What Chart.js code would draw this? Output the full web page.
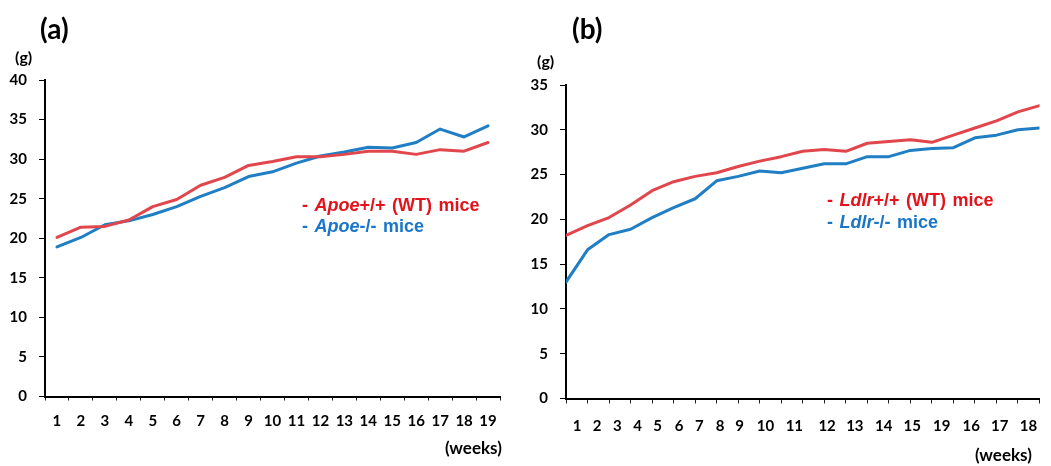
<!DOCTYPE html>
<html>
<head>
<meta charset="utf-8">
<script src="https://cdn.jsdelivr.net/npm/chart.js@4/dist/chart.umd.min.js"></script>
<style>
  html, body { margin: 0; padding: 0; background: #fff; }
  #wrap { position: relative; width: 1051px; height: 466px; overflow: hidden; background: #fff; }
  .pane { position: absolute; top: 0; height: 466px; }
  .t { position: absolute; white-space: nowrap; line-height: 1; color: #000; }
  .lab { font-family: Lato, "Open Sans", sans-serif; font-weight: 700; }
  .leg { font-family: "Liberation Sans", Arial, sans-serif; font-weight: 700; font-size: 18px; word-spacing: 1.5px; }
  .red { color: #e3131b; }
  .blue { color: #1a76c9; }
  i { font-style: italic; }
</style>
</head>
<body>
<div id="wrap">
  <div class="pane" style="left:0;width:525px;"><canvas id="ca" width="525" height="466"></canvas></div>
  <div class="pane" style="left:526px;width:525px;"><canvas id="cb" width="525" height="466"></canvas></div>

  <div class="t lab" style="left:40px;top:14px;font-size:28px;">(a)</div>
  <div class="t lab" style="left:15px;top:49px;font-size:16px;">(g)</div>
  <div class="t lab" style="left:445px;top:439px;font-size:17px;">(weeks)</div>
  <div class="t leg red" style="left:302px;top:196px;">- <i>Apoe</i>+/+ (WT) mice</div>
  <div class="t leg blue" style="left:302px;top:217px;">- <i>Apoe</i>-/- mice</div>

  <div class="t lab" style="left:572px;top:14px;font-size:28px;">(b)</div>
  <div class="t lab" style="left:537px;top:53px;font-size:16px;">(g)</div>
  <div class="t lab" style="left:975px;top:446px;font-size:17px;">(weeks)</div>
  <div class="t leg red" style="left:827px;top:191px;">- <i>Ldlr</i>+/+ (WT) mice</div>
  <div class="t leg blue" style="left:827px;top:213px;">- <i>Ldlr</i>-/- mice</div>
</div>
<script>
// ---------- Panel (a): Apoe ----------
const weeksA = ["1","2","3","4","5","6","7","8","9","10","11","12","13","14","15","16","17","18","19"];
const apoeWT = [20.1, 21.4, 21.5, 22.3, 24.0, 24.9, 26.7, 27.7, 29.2, 29.7, 30.3, 30.3, 30.6, 31.0, 31.0, 30.6, 31.2, 31.0, 32.1];
const apoeKO = [18.9, 20.1, 21.7, 22.2, 23.0, 24.0, 25.3, 26.4, 27.8, 28.4, 29.5, 30.4, 30.9, 31.5, 31.4, 32.1, 33.8, 32.8, 34.2];
const yTicksA = { min: 0, max: 40, step: 5 };

// ---------- Panel (b): Ldlr ----------
const ldlrWT = [18.2, 19.3, 20.2, 21.6, 23.2, 24.2, 24.8, 25.2, 25.9, 26.5, 27.0, 27.6, 27.8, 27.6, 28.5, 28.7, 28.9, 28.6, 29.4, 30.2, 31.0, 32.0, 32.7];
const ldlrKO = [13.0, 16.6, 18.3, 18.9, 20.2, 21.3, 22.3, 24.3, 24.8, 25.4, 25.2, 25.7, 26.2, 26.2, 27.0, 27.0, 27.7, 27.9, 28.0, 29.1, 29.4, 30.0, 30.2];
const weeksBLabels = ["1","2","3","4","5","6","7","8","9","10","11","12","13","14","15","19","16","17","18"];
const weeksBLabelPos = [0.52, 1.45, 2.39, 3.33, 4.26, 5.25, 6.20, 7.16, 8.07, 9.27, 10.61, 12.13, 13.42, 14.76, 16.09, 17.46, 18.83, 20.15, 21.49];
const yTicksB = { min: 0, max: 35, step: 5 };

const RED_LINE = '#e0464b';
const BLUE_LINE = '#1f7ec4';
const tickFont = { family: 'Lato, "Open Sans", sans-serif', size: 15, weight: 'bold' };

Chart.defaults.animation = false;
Chart.defaults.devicePixelRatio = 1;

function lineDs(data, color) {
  return {
    data: data, borderColor: color, backgroundColor: color, borderWidth: 3,
    pointRadius: 0, pointHoverRadius: 0, tension: 0, fill: false,
    borderCapStyle: 'round', borderJoinStyle: 'round'
  };
}

function yAxis(t, width) {
  return {
    type: 'linear', min: t.min, max: t.max,
    afterFit: s => { s.width = width; },
    ticks: { stepSize: t.step, color: '#000', font: tickFont, padding: 12 },
    grid: { drawOnChartArea: false, drawTicks: true, tickLength: 6, color: '#000', lineWidth: 1 },
    border: { display: true, color: '#000', width: 2 }
  };
}

// Chart (a)
new Chart(document.getElementById('ca'), {
  type: 'line',
  data: {
    labels: weeksA,
    datasets: [lineDs(apoeWT, RED_LINE), lineDs(apoeKO, BLUE_LINE)]
  },
  options: {
    responsive: false,
    animation: false,
    events: [],
    layout: { padding: { left: 0, right: 25, top: 80, bottom: 29.5 } },
    plugins: { legend: { display: false }, tooltip: { enabled: false } },
    scales: {
      x: {
        type: 'category', offset: true,
        afterFit: s => { s.height = 40; },
        ticks: { color: '#000', font: tickFont, padding: 12, autoSkip: false, maxRotation: 0 },
        grid: { offset: true, drawOnChartArea: false, drawTicks: true, tickLength: 4, color: '#222', lineWidth: 1 },
        border: { display: true, color: '#000', width: 2 }
      },
      y: yAxis(yTicksA, 45)
    }
  }
});

// Chart (b)
new Chart(document.getElementById('cb'), {
  type: 'line',
  data: {
    datasets: [
      lineDs(ldlrWT.map((v, i) => ({ x: i, y: v })), RED_LINE),
      lineDs(ldlrKO.map((v, i) => ({ x: i, y: v })), BLUE_LINE)
    ]
  },
  options: {
    responsive: false,
    animation: false,
    events: [],
    layout: { padding: { left: 0, right: 3, top: 85, bottom: 27.5 } },
    plugins: { legend: { display: false }, tooltip: { enabled: false } },
    scales: {
      x: {
        type: 'linear', min: 0, max: ldlrWT.length - 1, position: 'bottom',
        afterFit: s => { s.height = 5; },
        ticks: { stepSize: 1, display: false },
        grid: { drawOnChartArea: false, drawTicks: true, tickLength: 5, color: '#222', lineWidth: 1 },
        border: { display: true, color: '#000', width: 2 }
      },
      x2: {
        type: 'linear', min: 0, max: ldlrWT.length - 1, position: 'bottom',
        afterFit: s => { s.height = 35; },
        afterBuildTicks: s => { s.ticks = weeksBLabelPos.map(v => ({ value: v })); },
        ticks: {
          color: '#000', font: tickFont, padding: 13.5, autoSkip: false, maxRotation: 0,
          callback: (value, index) => weeksBLabels[index]
        },
        grid: { display: false, drawTicks: false },
        border: { display: false }
      },
      y: yAxis(yTicksB, 40)
    }
  }
});
</script>
</body>
</html>
